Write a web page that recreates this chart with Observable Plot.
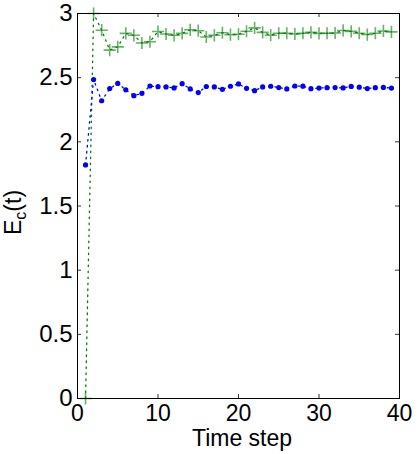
<!DOCTYPE html>
<html><head><meta charset="utf-8">
<script src="https://cdn.jsdelivr.net/npm/d3@7"></script>
<script src="https://cdn.jsdelivr.net/npm/@observablehq/plot@0.6"></script>
<style>body{margin:0;background:#fff;} svg{display:block;}</style>
</head><body><div id="chart"></div>
<script>
const timeSteps = [1,2,3,4,5,6,7,8,9,10,11,12,13,14,15,16,17,18,19,20,21,22,23,24,25,26,27,28,29,30,31,32,33,34,35,36,37,38,39];
const greenValues = [0,3.0,2.87,2.715,2.74,2.845,2.83,2.77,2.78,2.86,2.84,2.83,2.845,2.873,2.866,2.817,2.83,2.85,2.835,2.838,
  2.862,2.888,2.853,2.831,2.846,2.846,2.840,2.846,2.853,2.845,2.846,2.848,2.868,2.861,2.846,2.836,2.846,2.864,2.857];
const blueValues = [1.82,2.485,2.32,2.415,2.455,2.405,2.36,2.378,2.435,2.43,2.428,2.42,2.453,2.412,2.384,2.431,2.428,2.409,2.433,2.451,
  2.417,2.399,2.428,2.433,2.423,2.412,2.435,2.434,2.414,2.419,2.422,2.423,2.420,2.432,2.426,2.415,2.422,2.424,2.419];
const xTicks = [0,10,20,30,40];
const yTicks = [0,0.5,1,1.5,2,2.5,3];
const xLabel = "Time step";
const yLabelMain = "E", yLabelSub = "c", yLabelTail = "(t)";

const green = timeSteps.map((t,i)=>({t, v: greenValues[i]}));
const blue = timeSteps.map((t,i)=>({t, v: blueValues[i]}));

const W = 420, H = 454, mT = 13, mR = 21, mB = 56, mL = 77;
const pw = W - mL - mR, ph = H - mT - mB, tk = 4;
const fmt = d => String(d);

const plot = Plot.plot({
  width: W, height: H,
  marginTop: mT, marginRight: mR, marginBottom: mB, marginLeft: mL,
  style: {fontFamily: "'Liberation Sans', Arial, Helvetica, sans-serif", fontSize: "24px", background: "white", color: "black"},
  x: {domain: [0,40], label: null},
  y: {domain: [0,3], label: null},
  marks: [
    Plot.axisX(xTicks, {anchor: "bottom", tickSize: 0, tickPadding: 6, tickFormat: fmt, label: null, fontSize: 23}),
    Plot.axisY(yTicks, {anchor: "left", tickSize: 0, tickPadding: 5, tickFormat: fmt, label: null, fontSize: 24}),
    Plot.tickX(xTicks, {x: d=>d, insetTop: ph - tk, stroke: "#333"}),
    Plot.tickX(xTicks, {x: d=>d, insetBottom: ph - tk, stroke: "#333"}),
    Plot.tickY(yTicks, {y: d=>d, insetRight: pw - tk, stroke: "#333"}),
    Plot.tickY(yTicks, {y: d=>d, insetLeft: pw - tk, stroke: "#333"}),
    Plot.line(green, {x: "t", y: "v", stroke: "#008000", strokeWidth: 1.3, strokeDasharray: "1.5,4.5"}),
    Plot.line(blue, {x: "t", y: "v", stroke: "#0000ff", strokeWidth: 1.3, strokeDasharray: "1.5,4.5"}),
    Plot.dot(green, {x: "t", y: "v", symbol: "plus", r: 4, stroke: "#008000", strokeWidth: 1.6, strokeOpacity: 0.6}),
    Plot.dot(blue, {x: "t", y: "v", r: 2.6, fill: "#0000ff", stroke: "none"}),
    Plot.frame({stroke: "black", strokeWidth: 1})
  ]
});
document.getElementById("chart").appendChild(plot);

const svg = d3.select(plot);
const ff = "'Liberation Sans', Arial, Helvetica, sans-serif";
svg.append("text")
  .attr("x", mL + pw/2 + 4).attr("y", 446)
  .attr("text-anchor", "middle").attr("font-family", ff).attr("font-size", 23).attr("fill", "black")
  .text(xLabel);
const yl = svg.append("text")
  .attr("transform", "translate(21,235) rotate(-90)")
  .attr("text-anchor", "start").attr("font-family", ff).attr("font-size", 23).attr("fill", "black");
yl.append("tspan").text(yLabelMain);
yl.append("tspan").attr("dy", 5).attr("font-size", 16).text(yLabelSub);
yl.append("tspan").attr("dy", -5).text(yLabelTail);
</script>
</body></html>
